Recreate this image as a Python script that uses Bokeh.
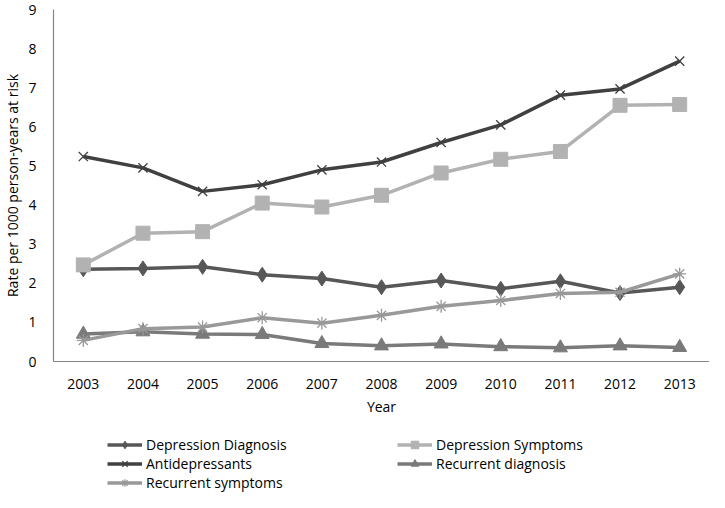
from bokeh.plotting import figure
from bokeh.models import FactorRange, Range1d, FixedTicker, Legend, LegendItem
from bokeh.layouts import column
from bokeh.embed import file_html
from bokeh.resources import INLINE

years = ["2003", "2004", "2005", "2006", "2007", "2008", "2009", "2010", "2011", "2012", "2013"]
depression_diagnosis = [2.36, 2.38, 2.42, 2.22, 2.12, 1.90, 2.07, 1.86, 2.05, 1.75, 1.90]
depression_symptoms = [2.47, 3.28, 3.32, 4.05, 3.95, 4.25, 4.82, 5.17, 5.37, 6.55, 6.57]
antidepressants = [5.24, 4.95, 4.35, 4.52, 4.90, 5.10, 5.60, 6.05, 6.81, 6.97, 7.68]
recurrent_diagnosis = [0.70, 0.76, 0.70, 0.69, 0.46, 0.40, 0.45, 0.38, 0.35, 0.40, 0.36]
recurrent_symptoms = [0.54, 0.84, 0.88, 1.12, 0.98, 1.18, 1.41, 1.56, 1.74, 1.77, 2.24]
y_ticks = [0, 1, 2, 3, 4, 5, 6, 7, 8, 9]

FONT = "Open Sans"

p = figure(width=709, height=418, output_backend="svg", toolbar_location=None,
           x_range=FactorRange(factors=years, range_padding=0),
           y_range=Range1d(0, 9),
           min_border_left=40, min_border_right=0, min_border_top=9, min_border_bottom=0)
p.outline_line_color = None
p.xgrid.visible = False
p.ygrid.visible = False

for ax in (p.xaxis[0], p.yaxis[0]):
    ax.axis_line_color = "#868686"
    ax.axis_line_width = 1.2
    ax.major_tick_line_color = None
    ax.minor_tick_line_color = None
    ax.major_label_text_font = FONT
    ax.major_label_text_font_size = "14px"
    ax.major_label_text_color = "#000000"
    ax.axis_label_text_font = FONT
    ax.axis_label_text_font_size = "14px"
    ax.axis_label_text_font_style = "normal"
    ax.axis_label_text_color = "#000000"

p.yaxis.ticker = FixedTicker(ticks=y_ticks)
p.yaxis.axis_label = "Rate per 1000 person-years at risk"
p.yaxis.major_label_standoff = 11
p.yaxis.axis_label_standoff = 3
p.xaxis.axis_label = "Year"
p.xaxis.major_label_standoff = 11
p.xaxis.axis_label_standoff = 5

series = [
    ("Depression Diagnosis", depression_diagnosis, "#575757", "diamond", 15),
    ("Depression Symptoms", depression_symptoms, "#b2b2b2", "square", 14),
    ("Antidepressants", antidepressants, "#404040", "x", 13),
    ("Recurrent diagnosis", recurrent_diagnosis, "#7a7a7a", "triangle", 14),
    ("Recurrent symptoms", recurrent_symptoms, "#999999", "asterisk", 13),
]

# legend strip: a second figure holding only the key (its series lie outside its view)
q = figure(width=709, height=74, output_backend="svg", toolbar_location=None,
           x_axis_type=None, y_axis_type=None,
           x_range=FactorRange(factors=years, range_padding=0),
           y_range=Range1d(100, 101),
           min_border=0)
q.outline_line_color = None
q.xgrid.visible = False
q.ygrid.visible = False

def draw(fig, vals, color, marker, size):
    ln = fig.line(years, vals, line_color=color, line_width=3.5)
    if marker in ("x", "asterisk"):
        sc = fig.scatter(years, vals, marker=marker, size=size, line_color=color,
                         line_width=1.3, fill_color=None)
    else:
        sc = fig.scatter(years, vals, marker=marker, size=size, line_color=color,
                         fill_color=color, line_width=1)
    return ln, sc

items = {}
for label, vals, color, marker, size in series:
    draw(p, vals, color, marker, size)
    ln, sc = draw(q, vals, color, marker, size)
    items[label] = LegendItem(label=label, renderers=[ln, sc])

def make_legend(labels, loc):
    return Legend(items=[items[l] for l in labels], location=loc,
                  glyph_width=35, glyph_height=19, label_standoff=4,
                  spacing=0, padding=0, margin=0, label_height=19,
                  label_text_font=FONT, label_text_font_size="14px",
                  label_text_color="#000000",
                  border_line_color=None, background_fill_alpha=0)

q.add_layout(make_legend(["Depression Diagnosis", "Antidepressants", "Recurrent symptoms"], (54, 0)), "center")
q.add_layout(make_legend(["Depression Symptoms", "Recurrent diagnosis"], (344, 19)), "center")

layout = column(p, q, spacing=0)
open("out.html", "w").write(file_html(layout, INLINE))
